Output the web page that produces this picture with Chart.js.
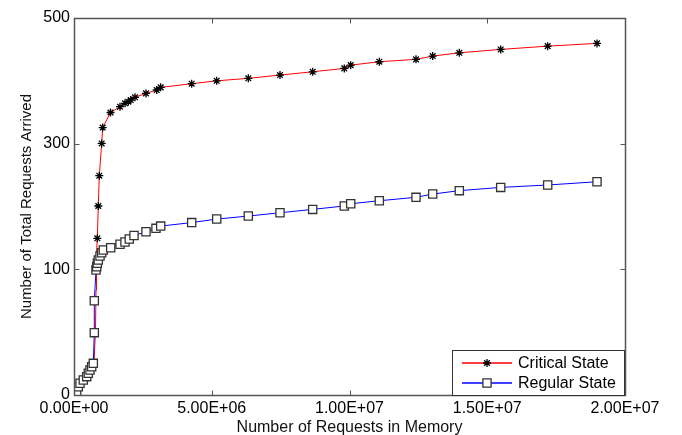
<!DOCTYPE html>
<html>
<head>
<meta charset="utf-8">
<script src="https://cdn.jsdelivr.net/npm/chart.js@4/dist/chart.umd.min.js"></script>
<style>
  html, body { margin: 0; padding: 0; background: #fff; }
  #wrap { width: 682px; height: 435px; }
</style>
</head>
<body>
<div id="wrap"><canvas id="chart" width="682" height="435"></canvas></div>
<script>
"use strict";

// tick labels of the original figure (equally spaced on the axis)
const yTickLabels = ['0', '100', '300', '500'];
const xTicks = [0, 5e6, 1e7, 1.5e7, 2e7];

// Critical State
const criticalX = [0, 0.145e6, 0.363e6, 0.581e6, 0.726e6, 0.78e6, 0.799e6, 0.817e6, 0.846e6, 0.882e6,
  0.918e6, 1.005e6, 1.042e6, 1.325e6, 1.67e6, 1.851e6, 1.971e6, 2.058e6, 2.214e6, 2.613e6,
  3.002e6, 3.147e6, 4.272e6, 5.18e6, 6.327e6, 7.477e6, 8.664e6, 9.811e6, 10.044e6, 11.082e6,
  12.414e6, 13.02e6, 13.986e6, 15.488e6, 17.194e6, 18.984e6];
const criticalY = [0, 0.064, 0.127, 0.191, 0.255, 0.517, 0.835, 1.13, 1.247, 1.504,
  1.745, 2.002, 2.128, 2.248, 2.294, 2.321, 2.334, 2.347, 2.369, 2.4,
  2.427, 2.448, 2.477, 2.5, 2.52, 2.546, 2.572, 2.599, 2.625, 2.652,
  2.671, 2.697, 2.723, 2.75, 2.776, 2.798];

// Regular State
const regularX = [0.018e6, 0.054e6, 0.098e6, 0.156e6, 0.218e6, 0.338e6, 0.461e6, 0.519e6, 0.581e6, 0.642e6,
  0.701e6, 0.737e6, 0.737e6, 0.799e6, 0.824e6, 0.846e6, 0.882e6, 0.944e6, 1.005e6, 1.064e6,
  1.332e6, 1.67e6, 1.851e6, 2.007e6, 2.178e6, 2.613e6, 2.976e6, 3.147e6, 4.272e6, 5.18e6,
  6.327e6, 7.477e6, 8.664e6, 9.811e6, 10.044e6, 11.082e6, 12.414e6, 13.02e6, 13.986e6, 15.488e6,
  17.194e6, 18.984e6];
const regularY = [0.004, 0.016, 0.026, 0.066, 0.093, 0.119, 0.146, 0.173, 0.199, 0.225,
  0.252, 0.496, 0.75, 0.994, 1.021, 1.048, 1.074, 1.106, 1.132, 1.154,
  1.172, 1.199, 1.217, 1.241, 1.269, 1.299, 1.326, 1.344, 1.372, 1.4,
  1.424, 1.45, 1.477, 1.504, 1.522, 1.546, 1.573, 1.599, 1.626, 1.652,
  1.671, 1.697];

const FONT = 'Liberation Sans, Arial, sans-serif';
const AXIS_COLOR = '#555555';
const RED = '#ff0000';
const BLUE = '#0000ff';

function toPoints(xs, ys) {
  return xs.map((x, i) => ({ x: x, y: ys[i] }));
}

function fmtE(v) {
  if (v === 0) return '0.00E+00';
  const e = Math.floor(Math.log10(v) + 1e-9);
  const m = v / Math.pow(10, e);
  return m.toFixed(2) + 'E+' + String(e).padStart(2, '0');
}

// box round the plot with inward tick marks, like the matlab axes
const frame = {
  id: 'frame',
  afterDatasetsDraw(chart) {
    const ctx = chart.ctx, a = chart.chartArea;
    const xs = chart.scales.x, ys = chart.scales.y;
    const L = Math.round(a.left) + 0.5, R = Math.round(a.right) + 0.5;
    const T = Math.round(a.top) + 0.5, B = Math.round(a.bottom) + 0.5;
    ctx.save();
    ctx.strokeStyle = AXIS_COLOR;
    ctx.lineWidth = 1;
    ctx.beginPath();
    xTicks.forEach(v => {
      const px = Math.round(xs.getPixelForValue(v)) + 0.5;
      ctx.moveTo(px, B); ctx.lineTo(px, B - 5);
      ctx.moveTo(px, T); ctx.lineTo(px, T + 5);
    });
    yTickLabels.forEach((t, i) => {
      const py = Math.round(ys.getPixelForValue(i)) + 0.5;
      ctx.moveTo(L, py); ctx.lineTo(L + 5, py);
      ctx.moveTo(R, py); ctx.lineTo(R - 5, py);
    });
    ctx.stroke();
    ctx.lineWidth = 1.5;
    ctx.strokeRect(L, T, R - L, B - T);

    // legend box
    const lx = 452.5, ly = 350.5, lw = 172, lh = 45;
    ctx.fillStyle = '#ffffff';
    ctx.fillRect(lx, ly, lw, lh);
    ctx.lineWidth = 1;
    ctx.strokeStyle = '#333333';
    ctx.strokeRect(lx, ly, lw, lh);
    chart.data.datasets.forEach((ds, i) => {
      const y = 363 + i * 20;
      ctx.beginPath();
      ctx.strokeStyle = i === 0 ? RED : BLUE;
      ctx.lineWidth = 1.4;
      ctx.moveTo(462, y); ctx.lineTo(512, y);
      ctx.stroke();
      ctx.fillStyle = ds.pointBackgroundColor;
      ctx.strokeStyle = ds.pointBorderColor;
      ctx.lineWidth = ds.pointBorderWidth;
      Chart.helpers.drawPoint(ctx, { pointStyle: ds.pointStyle, radius: ds.legendRadius, rotation: 0, borderWidth: ds.pointBorderWidth }, 487, y);
      ctx.fillStyle = '#000';
      ctx.font = '16px ' + FONT;
      ctx.textBaseline = 'middle';
      ctx.textAlign = 'left';
      ctx.fillText(ds.label, 518, y + 1);
    });
    ctx.restore();
  }
};

new Chart(document.getElementById('chart'), {
  type: 'line',
  data: {
    datasets: [{
      label: 'Critical State',
      data: toPoints(criticalX, criticalY),
      borderColor: RED,
      borderWidth: 1,
      pointStyle: 'star',
      pointRadius: c => (c.raw && c.raw.y < 1.2 ? 0 : 4),
      legendRadius: 4,
      pointBackgroundColor: '#000',
      pointBorderColor: '#000',
      pointBorderWidth: 1.3,
      order: 1
    }, {
      label: 'Regular State',
      data: toPoints(regularX, regularY),
      borderColor: BLUE,
      borderWidth: 1,
      pointStyle: 'rect',
      pointRadius: 5.8,
      legendRadius: 5.8,
      pointBackgroundColor: '#ffffff',
      pointBorderColor: '#333333',
      pointBorderWidth: 1.3,
      order: 0
    }]
  },
  options: {
    responsive: false,
    animation: false,
    layout: { padding: { left: 0, right: 57, top: 18, bottom: 0 } },
    plugins: { legend: { display: false }, tooltip: { enabled: false } },
    elements: { line: { tension: 0 } },
    scales: {
      x: {
        type: 'linear',
        min: 0, max: 2e7,
        afterFit: s => { s.height = 40; },
        afterBuildTicks: s => { s.ticks = xTicks.map(v => ({ value: v })); },
        grid: { display: false, drawTicks: false },
        border: { display: false },
        ticks: {
          maxRotation: 0,
          autoSkip: false,
          padding: 4,
          color: '#000',
          font: { family: FONT, size: 16 },
          callback: v => fmtE(v)
        },
        title: {
          display: true,
          text: 'Number of Requests in Memory',
          color: '#111',
          font: { family: FONT, size: 16 },
          padding: { top: 0, bottom: -2 }
        }
      },
      y: {
        type: 'linear',
        min: 0, max: 3,
        afterFit: s => { s.width = 74; },
        afterBuildTicks: s => { s.ticks = yTickLabels.map((t, i) => ({ value: i })); },
        grid: { display: false, drawTicks: false },
        border: { display: false },
        ticks: {
          padding: 4,
          color: '#000',
          font: { family: FONT, size: 16 },
          callback: (v, i) => yTickLabels[i]
        },
        title: {
          display: true,
          text: 'Number of Total Requests Arrived',
          color: '#111',
          font: { family: FONT, size: 15 },
          padding: { top: 18, bottom: 0 }
        }
      }
    }
  },
  plugins: [frame]
});
</script>
</body>
</html>
